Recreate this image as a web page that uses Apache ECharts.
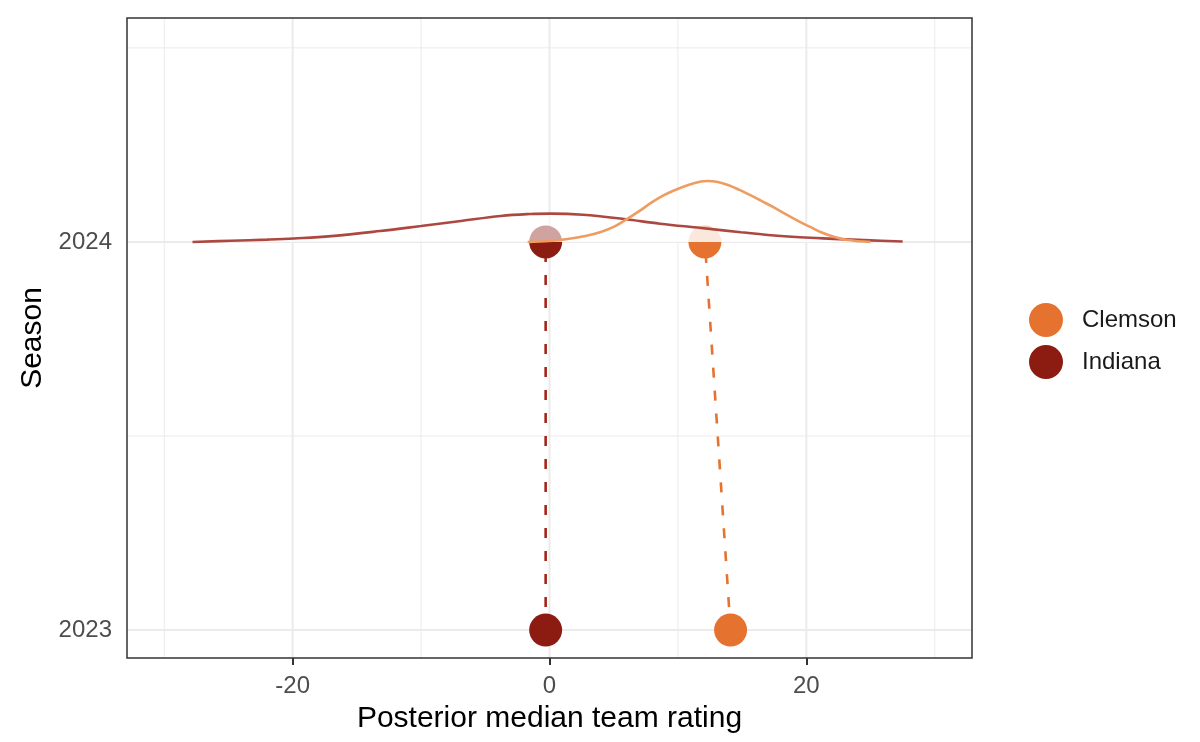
<!DOCTYPE html>
<html>
<head>
<meta charset="utf-8">
<script src="https://cdn.jsdelivr.net/npm/echarts@6/dist/echarts.min.js"></script>
<style>html,body{margin:0;padding:0;background:#fff}#c{width:1200px;height:742px}</style>
</head>
<body>
<div id="c"></div>
<script>
// ---- data ----
const teams = ['Clemson', 'Indiana'];
const seasons = [2023, 2024];
const clemsonRating = [14.1, 12.1];   // 2023, 2024
const indianaRating = [-0.3, -0.3];   // 2023, 2024
// posterior density ridges (x = rating, h = ridge height in season units above 2024)
const clemsonDensX = [-1.7, 0.0, 1.4, 2.8, 4.0, 5.0, 5.8, 6.9, 7.9, 8.8, 9.6, 10.8, 11.8, 12.3, 13.1, 13.9, 14.8, 15.6, 16.5, 17.4, 18.5, 19.5, 20.3, 21.1, 22.2, 23.2, 25.0];
const clemsonDensH = [0.0, 0.0026, 0.0077, 0.0155, 0.0258, 0.0387, 0.0541, 0.0773, 0.1005, 0.1186, 0.1314, 0.1469, 0.1559, 0.1572, 0.1546, 0.1469, 0.1340, 0.1211, 0.1057, 0.0902, 0.0696, 0.0515, 0.0387, 0.0258, 0.0129, 0.0052, 0.0];
const indianaDensX = [-27.8, -24.8, -22.0, -19.9, -17.0, -13.2, -10.0, -6.9, -3.8, -1.5, 0.1, 2.6, 5.8, 8.6, 11.8, 14.9, 17.0, 19.5, 22.1, 25.0, 27.5];
const indianaDensH = [0.0, 0.003, 0.006, 0.009, 0.015, 0.028, 0.041, 0.054, 0.067, 0.072, 0.073, 0.070, 0.059, 0.047, 0.036, 0.025, 0.018, 0.012, 0.008, 0.004, 0.001];
const xTicks = [-20, 0, 20];
const xMinor = [-30, -10, 10, 30];
const yTicks = [2023, 2024];
const yMinor = [2023.5, 2024.5];
const xRange = [-32.9, 32.9];
const yRange = [2022.928, 2024.577];

const colors = { Clemson: '#E6722F', Indiana: '#8C1B12' };
const ridgeLine = { Clemson: '#EE9C60', Indiana: '#AD4840' };
const segColor = { Clemson: '#E6722F', Indiana: '#A3261C' };

const ratings = { Clemson: clemsonRating, Indiana: indianaRating };
const dens = {
  Clemson: clemsonDensX.map((x, i) => [x, 2024 + clemsonDensH[i]]),
  Indiana: indianaDensX.map((x, i) => [x, 2024 + indianaDensH[i]])
};

const series = [];
// panel grid lines drawn as plain line series (beneath everything)
function gridSeries(data, w) {
  return { type: 'line', data, z: 0, silent: true, symbol: 'none', legendHoverLink: false,
           lineStyle: { color: '#EBEBEB', width: w } };
}
xTicks.forEach(v => series.push(gridSeries([[v, yRange[0]], [v, yRange[1]]], 2)));
xMinor.forEach(v => series.push(gridSeries([[v, yRange[0]], [v, yRange[1]]], 1)));
yTicks.forEach(v => series.push(gridSeries([[xRange[0], v], [xRange[1], v]], 2)));
yMinor.forEach(v => series.push(gridSeries([[xRange[0], v], [xRange[1], v]], 1)));

teams.forEach(t => {
  series.push({
    name: t + ' change', type: 'line', z: 2, symbol: 'none', silent: true,
    data: seasons.map((s, i) => [ratings[t][i], s]),
    lineStyle: { color: segColor[t], width: 2.6, type: [10, 13] }
  });
});
teams.forEach(t => {
  series.push({
    name: t, type: 'scatter', z: 3, symbolSize: 33,
    itemStyle: { color: colors[t], opacity: 1 },
    data: seasons.map((s, i) => [ratings[t][i], s])
  });
});
['Indiana', 'Clemson'].forEach(t => {
  series.push({
    name: t + ' ridge fill', type: 'line', z: 4, symbol: 'none', smooth: 0.4, silent: true,
    data: dens[t],
    lineStyle: { width: 0 },
    areaStyle: { color: 'rgba(255,255,255,0.6)', origin: 2024, opacity: 1 }
  });
});
['Indiana', 'Clemson'].forEach(t => {
  series.push({
    name: t + ' ridge', type: 'line', z: 5, symbol: 'none', smooth: 0.4, silent: true,
    data: dens[t],
    lineStyle: { color: ridgeLine[t], width: 2.6 }
  });
});

const chart = echarts.init(document.getElementById('c'), null, { renderer: 'canvas' });
chart.setOption({
  animation: false,
  backgroundColor: '#fff',
  textStyle: { fontFamily: 'Liberation Sans, Arial, sans-serif' },
  grid: { left: 127, right: 228, top: 18, bottom: 84, show: true, borderColor: '#333333', borderWidth: 1.5, backgroundColor: 'transparent', z: 6 },
  legend: {
    data: teams, orient: 'vertical', left: 1024, top: 298, icon: 'circle',
    itemWidth: 34, itemHeight: 34, itemGap: 8,
    textStyle: { fontSize: 24, color: '#1a1a1a', padding: [0, 0, 0, 14] }
  },
  xAxis: {
    type: 'value', min: xRange[0], max: xRange[1],
    name: 'Posterior median team rating', nameLocation: 'middle', nameGap: 46,
    nameTextStyle: { fontSize: 30, color: '#000' },
    axisLine: { show: false },
    splitLine: { show: false },
    axisTick: { show: true, customValues: xTicks, length: 7, lineStyle: { color: '#333', width: 2 } },
    axisLabel: { customValues: xTicks, fontSize: 24, color: '#4D4D4D', margin: 16, formatter: v => String(v) }
  },
  yAxis: {
    type: 'value', min: yRange[0], max: yRange[1],
    name: 'Season', nameLocation: 'middle', nameGap: 76, nameRotate: 90,
    nameTextStyle: { fontSize: 30, color: '#000' },
    axisLine: { show: false },
    splitLine: { show: false },
    axisTick: { show: true, customValues: yTicks, length: 7, lineStyle: { color: '#333', width: 2 } },
    axisLabel: { customValues: yTicks, fontSize: 24, color: '#4D4D4D', margin: 15, formatter: v => String(v) }
  },
  series
});
</script>
</body>
</html>
